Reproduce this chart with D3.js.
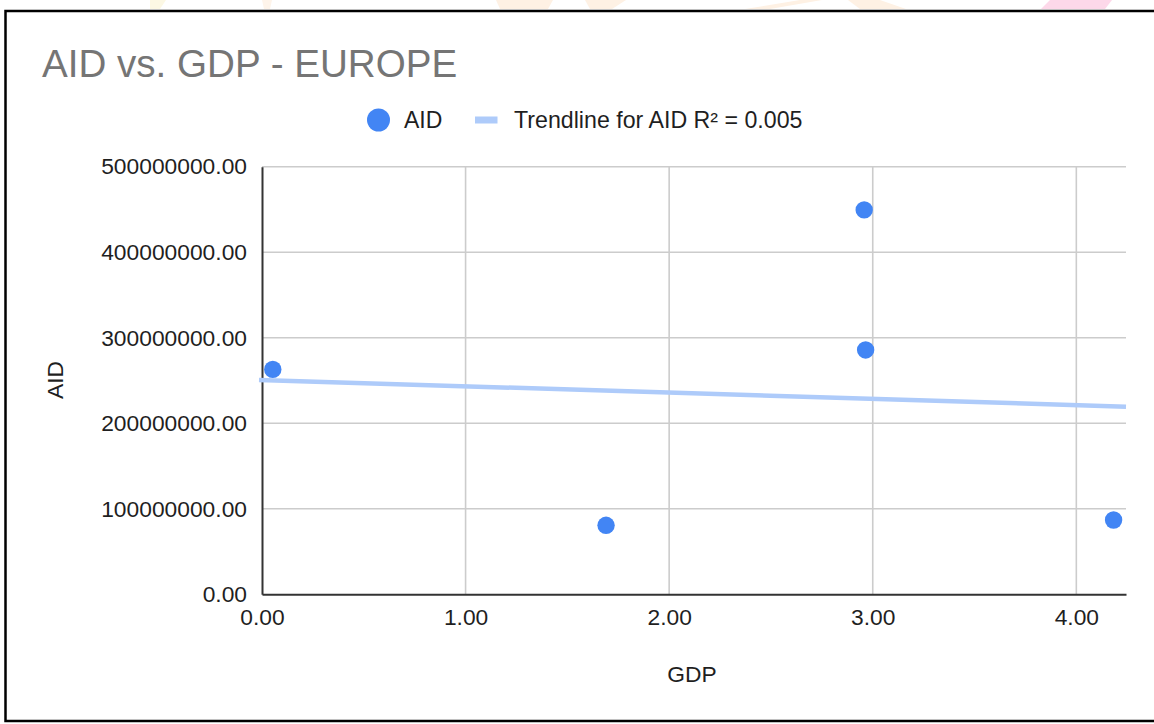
<!DOCTYPE html>
<html>
<head>
<meta charset="utf-8">
<script src="https://cdn.jsdelivr.net/npm/d3@7"></script>
<style>
  html, body { margin: 0; padding: 0; background: #ffffff; }
  svg { display: block; }
  text { font-family: "Liberation Sans", Arial, Helvetica, sans-serif; }
</style>
</head>
<body>
<svg id="chart" width="1154" height="724"></svg>
<script>
// GDP (x) and AID (y) for each European recipient
const gdpValues = [0.053, 1.690, 2.958, 2.965, 4.183];
const aidValues = [263000000, 80700000, 449500000, 285700000, 86900000];

const xTicks = [0, 1, 2, 3, 4];
const yTicks = [0, 100000000, 200000000, 300000000, 400000000, 500000000];

const chartTitle = "AID vs. GDP - EUROPE";
const seriesName = "AID";
const trendLabel = "Trendline for AID R² = 0.005";
const xAxisTitle = "GDP";
const yAxisTitle = "AID";

const W = 1154, H = 724;
const plot = { left: 262, right: 1126, top: 166.7, bottom: 594.3 };
const FONT = "'Liberation Sans', Arial, Helvetica, sans-serif";

const svg = d3.select("#chart");

// faint page artwork peeking above the frame
const deco = [
  { pts: [[150,0],[166,0],[160,9],[150,9]], c: "#fcf8e4" },
  { pts: [[262,0],[272,0],[270,9],[264,9]], c: "#fef4ea" },
  { pts: [[496,0],[553,0],[548,9],[500,9]], c: "#fef1e4" },
  { pts: [[585,0],[626,0],[612,9],[590,9]], c: "#fef1e4" },
  { pts: [[745,9],[800,0],[822,0],[770,9]], c: "#fef1e4" },
  { pts: [[848,0],[880,0],[906,9],[860,9]], c: "#fef1e4" },
  { pts: [[1041,9],[1050,0],[1112,0],[1105,9]], c: "#fdd8e9" }
];
svg.append("g").selectAll("polygon").data(deco).join("polygon")
  .attr("points", d => d.pts.map(p => p.join(",")).join(" "))
  .attr("fill", d => d.c);

// frame
svg.append("rect")
  .attr("x", 5.5).attr("y", 11)
  .attr("width", W + 20).attr("height", 710)
  .attr("fill", "#ffffff")
  .attr("stroke", "#000000").attr("stroke-width", 2.5);

const x = d3.scaleLinear().domain([0, 4.244]).range([plot.left, plot.right]);
const y = d3.scaleLinear().domain([0, 500000000]).range([plot.bottom, plot.top]);

// gridlines
const grid = svg.append("g");
grid.selectAll("line.h").data(yTicks.filter(v => v > 0)).join("line")
  .attr("class", "h")
  .attr("x1", plot.left).attr("x2", plot.right)
  .attr("y1", d => y(d)).attr("y2", d => y(d))
  .attr("stroke", "#cccccc").attr("stroke-width", 1.6);
grid.selectAll("line.v").data(xTicks.filter(v => v > 0)).join("line")
  .attr("class", "v")
  .attr("x1", d => x(d)).attr("x2", d => x(d))
  .attr("y1", plot.top).attr("y2", plot.bottom)
  .attr("stroke", "#cccccc").attr("stroke-width", 1.6);

// axes
const fmt = d3.format(".2f");
const xAxis = svg.append("g")
  .attr("transform", `translate(0,${plot.bottom})`)
  .call(d3.axisBottom(x).tickValues(xTicks).tickFormat(fmt).tickSize(0).tickPadding(15));
xAxis.select(".domain").attr("stroke", "#333333").attr("stroke-width", 2);
xAxis.selectAll("text").attr("font-size", 22.8).attr("fill", "#1f1f1f")
  .attr("font-family", FONT);

const yAxis = svg.append("g")
  .attr("transform", `translate(${plot.left},0)`)
  .call(d3.axisLeft(y).tickValues(yTicks).tickFormat(fmt).tickSize(0).tickPadding(15));
yAxis.select(".domain").attr("stroke", "#333333").attr("stroke-width", 2);
yAxis.selectAll("text").attr("font-size", 22.8).attr("fill", "#1f1f1f")
  .attr("font-family", FONT);

// least-squares trendline
const mx = d3.mean(gdpValues), my = d3.mean(aidValues);
let sxy = 0, sxx = 0;
gdpValues.forEach((g, i) => {
  sxy += (g - mx) * (aidValues[i] - my);
  sxx += (g - mx) ** 2;
});
const slope = sxy / sxx;
const intercept = my - slope * mx;
const xStart = x.invert(plot.left - 3);
const [, xEnd] = x.domain();
svg.append("line")
  .attr("x1", x(xStart)).attr("y1", y(intercept + slope * xStart))
  .attr("x2", x(xEnd)).attr("y2", y(intercept + slope * xEnd))
  .attr("stroke", "#aecbfa").attr("stroke-width", 4.5);

// points
svg.append("g").selectAll("circle")
  .data(gdpValues.map((g, i) => ({ g, a: aidValues[i] })))
  .join("circle")
  .attr("cx", d => x(d.g)).attr("cy", d => y(d.a))
  .attr("r", 8.7)
  .attr("fill", "#4285f4");

// title
svg.append("text")
  .attr("x", 42).attr("y", 77)
  .attr("font-size", 38.6).attr("fill", "#757575")
  .text(chartTitle);

// legend
const legend = svg.append("g");
legend.append("circle").attr("cx", 378.5).attr("cy", 120).attr("r", 11.5).attr("fill", "#4285f4");
legend.append("text").attr("x", 404).attr("y", 127.5).attr("font-size", 23).attr("fill", "#1f1f1f").text(seriesName);
legend.append("rect").attr("x", 475).attr("y", 116.5).attr("width", 22.5).attr("height", 7).attr("fill", "#aecbfa");
legend.append("text").attr("x", 514).attr("y", 127.5).attr("font-size", 23.2).attr("fill", "#1f1f1f")
  .text(trendLabel);

// axis titles
svg.append("text")
  .attr("x", 692).attr("y", 682)
  .attr("text-anchor", "middle").attr("font-size", 22.8).attr("fill", "#1f1f1f")
  .text(xAxisTitle);
svg.append("text")
  .attr("transform", "translate(63,380) rotate(-90)")
  .attr("text-anchor", "middle").attr("font-size", 22.8).attr("fill", "#1f1f1f")
  .text(yAxisTitle);
</script>
</body>
</html>
